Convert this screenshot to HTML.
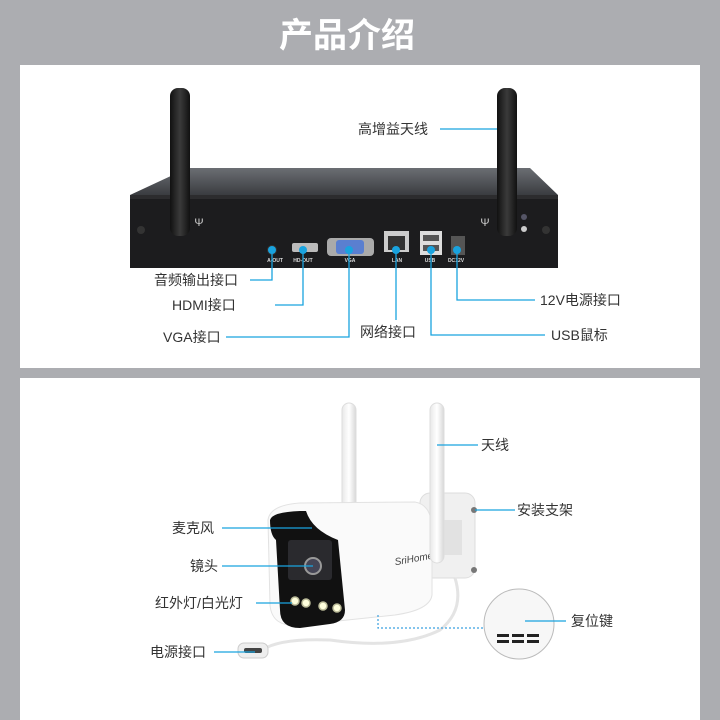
<!DOCTYPE html>
<html><head><meta charset="utf-8"><style>
body{margin:0;width:720px;height:720px;background:#acadb1;overflow:hidden}
svg{display:block}
text{font-family:"Liberation Sans","Noto Sans CJK SC",sans-serif}
</style></head><body>
<svg width="720" height="720" viewBox="0 0 720 720">
<rect width="720" height="720" fill="#acadb1"/>
<text x="347" y="47" text-anchor="middle" font-size="34" font-weight="bold" fill="#fff">产品介绍</text>
<rect x="20" y="65" width="680" height="303" fill="#fff"/>
<rect x="20" y="378" width="680" height="342" fill="#fff"/>

<!-- NVR -->
<defs>
<linearGradient id="tp" x1="0" y1="0" x2="0" y2="1"><stop offset="0" stop-color="#6b6e73"/><stop offset="1" stop-color="#3a3c40"/></linearGradient>
<linearGradient id="ant" x1="0" y1="0" x2="1" y2="0"><stop offset="0" stop-color="#111"/><stop offset=".5" stop-color="#3a3a3a"/><stop offset="1" stop-color="#111"/></linearGradient>
<linearGradient id="wa" x1="0" y1="0" x2="1" y2="0"><stop offset="0" stop-color="#e8e8e8"/><stop offset=".5" stop-color="#fff"/><stop offset="1" stop-color="#d8d8d8"/></linearGradient>
</defs>
<polygon points="188,168 530,168 558,195 130,195" fill="url(#tp)"/>
<rect x="130" y="195" width="428" height="73" fill="#1c1c1e"/>
<rect x="130" y="195" width="428" height="4" fill="#2c2c2e"/>
<rect x="170" y="88" width="20" height="148" rx="8" fill="url(#ant)"/>
<rect x="497" y="88" width="20" height="148" rx="8" fill="url(#ant)"/>
<text x="199" y="226" font-size="11" fill="#ccc" text-anchor="middle">Ψ</text>
<text x="485" y="226" font-size="11" fill="#ccc" text-anchor="middle">Ψ</text>
<circle cx="141" cy="230" r="4" fill="#333"/><circle cx="546" cy="230" r="4" fill="#333"/>
<circle cx="524" cy="217" r="3" fill="#556"/><circle cx="524" cy="229" r="3" fill="#ccc"/>
<!-- ports -->
<circle cx="272" cy="250" r="5" fill="#333"/>
<rect x="292" y="243" width="26" height="9" rx="2" fill="#bbb"/>
<rect x="327" y="238" width="47" height="18" rx="4" fill="#aaa"/><rect x="336" y="240" width="28" height="14" rx="3" fill="#5a7fd0"/>
<rect x="384" y="231" width="25" height="21" fill="#ccc"/><rect x="388" y="236" width="17" height="14" fill="#333"/>
<rect x="420" y="231" width="22" height="24" fill="#ddd"/><rect x="423" y="235" width="16" height="6" fill="#555"/><rect x="423" y="245" width="16" height="6" fill="#555"/>
<rect x="451" y="236" width="14" height="19" fill="#555"/>
<g font-size="5" fill="#ddd" text-anchor="middle" font-weight="bold">
<text x="275" y="262">A-OUT</text><text x="303" y="262">HD-OUT</text><text x="350" y="262">VGA</text><text x="397" y="262">LAN</text><text x="430" y="262">USB</text><text x="456" y="262">DC12V</text></g>
<g stroke="#19a3df" stroke-width="1.3" fill="none">
<polyline points="272,250 272,280 250,280"/>
<polyline points="303,250 303,305 275,305"/>
<polyline points="349,250 349,337 226,337"/>
<polyline points="396,250 396,320"/>
<polyline points="431,250 431,335 545,335"/>
<polyline points="457,250 457,300 535,300"/>
<line x1="440" y1="129" x2="497" y2="129"/>
</g>
<g fill="#19a3df"><circle cx="272" cy="250" r="4"/><circle cx="303" cy="250" r="4"/><circle cx="349" cy="250" r="4"/><circle cx="396" cy="250" r="4"/><circle cx="431" cy="250" r="4"/><circle cx="457" cy="250" r="4"/></g>
<g font-size="14" fill="#333">
<text x="154" y="285">音频输出接口</text>
<text x="172" y="310">HDMI接口</text>
<text x="163" y="342">VGA接口</text>
<text x="360" y="337">网络接口</text>
<text x="551" y="340">USB鼠标</text>
<text x="540" y="305">12V电源接口</text>
<text x="358" y="134">高增益天线</text>
</g>

<!-- Camera -->
<rect x="342" y="403" width="14" height="110" rx="7" fill="url(#wa)" stroke="#ddd"/>
<rect x="420" y="493" width="55" height="85" rx="10" fill="#f0f0f0" stroke="#ddd"/>
<rect x="440" y="520" width="22" height="35" fill="#e2e2e2"/>
<circle cx="474" cy="510" r="3" fill="#777"/><circle cx="474" cy="570" r="3" fill="#777"/>
<path d="M268 520 Q270 505 300 503 L415 502 Q432 505 432 530 L432 595 Q430 610 395 615 L300 625 Q272 628 270 605 Z" fill="#fafafa" stroke="#e2e2e2"/>
<path d="M270 520 Q272 512 300 511 L306 511 Q312 530 338 540 L345 610 Q345 622 330 624 L300 628 Q280 628 280 610 L276 540 Q270 535 270 520 Z" fill="#111"/>
<rect x="288" y="540" width="44" height="40" rx="3" fill="#2a2a2e"/>
<circle cx="313" cy="566" r="8" fill="#445" stroke="#999" stroke-width="2"/>
<g fill="#ffd" stroke="#bb9" stroke-width="1.5"><circle cx="295" cy="601" r="4"/><circle cx="306" cy="603" r="4"/><circle cx="323" cy="606" r="4"/><circle cx="337" cy="608" r="4"/></g>
<text x="395" y="567" font-size="10" font-style="italic" font-family="Liberation Serif,serif" fill="#444" transform="rotate(-10 385 565)">SriHome</text>
<rect x="430" y="403" width="14" height="160" rx="7" fill="url(#wa)" stroke="#ddd"/>
<path d="M455 578 Q465 610 440 630 Q400 650 330 640 Q280 638 262 650" fill="none" stroke="#e4e4e4" stroke-width="3"/>
<rect x="238" y="643" width="30" height="15" rx="6" fill="#eee" stroke="#ccc"/><rect x="244" y="648" width="18" height="5" rx="2" fill="#444"/>
<circle cx="519" cy="624" r="35" fill="#f7f7f7" stroke="#bbb"/>
<g fill="#222"><rect x="497" y="634" width="12" height="3"/><rect x="512" y="634" width="12" height="3"/><rect x="527" y="634" width="12" height="3"/><rect x="497" y="640" width="12" height="3"/><rect x="512" y="640" width="12" height="3"/><rect x="527" y="640" width="12" height="3"/></g>
<polyline points="378,615 378,628 484,628" fill="none" stroke="#3aa0e0" stroke-width="1.2" stroke-dasharray="2,2"/>
<g stroke="#19a3df" stroke-width="1.3">
<line x1="222" y1="528" x2="312" y2="528"/>
<line x1="222" y1="566" x2="313" y2="566"/>
<line x1="256" y1="603" x2="292" y2="603"/>
<line x1="214" y1="652" x2="255" y2="652"/>
<line x1="437" y1="445" x2="478" y2="445"/>
<line x1="475" y1="510" x2="515" y2="510"/>
<line x1="525" y1="621" x2="566" y2="621"/>
</g>
<g font-size="14" fill="#333">
<text x="172" y="533">麦克风</text>
<text x="190" y="571">镜头</text>
<text x="155" y="608">红外灯/白光灯</text>
<text x="150" y="657">电源接口</text>
<text x="481" y="450">天线</text>
<text x="517" y="515">安装支架</text>
<text x="571" y="626">复位键</text>
</g>
</svg>
</body></html>
